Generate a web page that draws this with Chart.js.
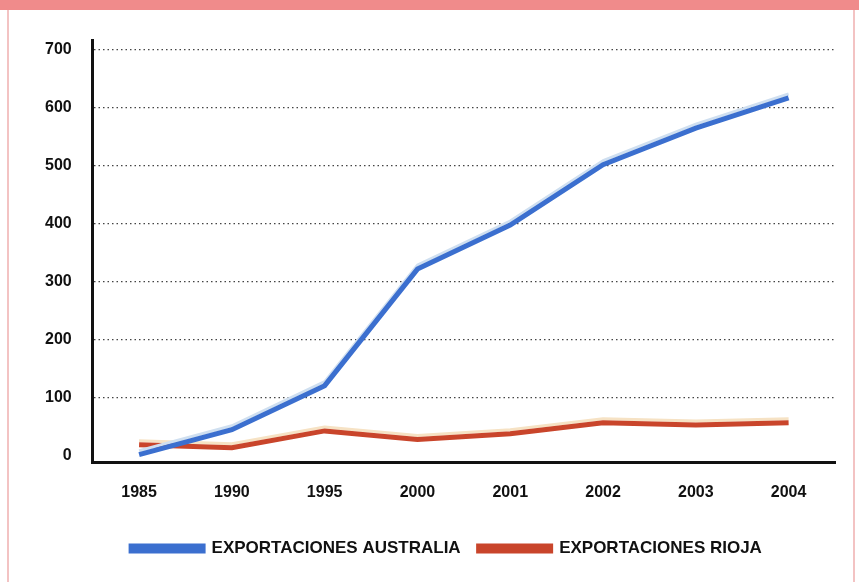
<!DOCTYPE html>
<html>
<head>
<meta charset="utf-8">
<script src="https://cdn.jsdelivr.net/npm/chart.js@4/dist/chart.umd.min.js"></script>
<style>
  html, body { margin: 0; padding: 0; background: #fff; }
  #frame {
    position: relative;
    width: 859px;
    height: 582px;
    overflow: hidden;
    background: #fff;
  }
  #topbar { position: absolute; left: 0; top: 0; width: 859px; height: 10px; background: #f08b8b; }
  #leftline { position: absolute; left: 7px; top: 10px; width: 2px; height: 572px; background: #f3c3c3; }
  #rightline { position: absolute; left: 853px; top: 10px; width: 2px; height: 572px; background: #f3c3c3; }
  #wrap { position: absolute; left: 0; top: 0; width: 859px; height: 582px; }
</style>
</head>
<body>
<div id="frame">
  <div id="topbar"></div>
  <div id="leftline"></div>
  <div id="rightline"></div>
  <div id="wrap"><canvas id="chart"></canvas></div>
</div>
<script>
// Data
const years = ['1985', '1990', '1995', '2000', '2001', '2002', '2003', '2004'];
const australia = [2, 45, 121, 322, 398, 502, 565, 617];
const rioja = [19, 14, 43, 28, 38, 57, 53, 57];
const yTicks = [0, 100, 200, 300, 400, 500, 600, 700];

const FONT = "'Liberation Sans', Arial, sans-serif";

// pale highlight drawn just above each line, like the printed original
const highlightPlugin = {
    id: 'highlight',
    beforeDatasetDraw(chart, args) {
        const ds = chart.data.datasets[args.index];
        if (!ds.highlightColor) return;
        const pts = args.meta.data;
        const ctx = chart.ctx;
        ctx.save();
        ctx.strokeStyle = ds.highlightColor;
        ctx.lineWidth = 3;
        ctx.lineJoin = 'round';
        ctx.beginPath();
        pts.forEach((p, i) => {
            if (i === 0) ctx.moveTo(p.x, p.y - 4);
            else ctx.lineTo(p.x, p.y - 4);
        });
        ctx.stroke();
        ctx.restore();
    }
};

// the legend sits a little right of centre in the original
const legendShift = {
    id: 'legendShift',
    afterLayout(chart) {
        if (!chart.legend) return;
        chart.legend.left += 17;
        chart.legend.right += 17;
    }
};

const ctx = document.getElementById('chart');

new Chart(ctx, {
    type: 'line',
    data: {
        labels: years,
        datasets: [
            {
                label: 'EXPORTACIONES AUSTRALIA',
                data: australia,
                borderColor: '#3b6fcf',
                backgroundColor: '#3b6fcf',
                highlightColor: '#cfdff0',
                borderWidth: 5,
                pointRadius: 0,
                tension: 0,
                fill: false
            },
            {
                label: 'EXPORTACIONES RIOJA',
                data: rioja,
                borderColor: '#c9452b',
                backgroundColor: '#c9452b',
                highlightColor: '#f6e2c4',
                borderWidth: 5,
                pointRadius: 0,
                tension: 0,
                fill: false
            }
        ]
    },
    options: {
        responsive: true,
        maintainAspectRatio: false,
        animation: false,
        layout: {
            padding: { left: 24, right: 24, top: 40, bottom: 15 }
        },
        plugins: {
            legend: {
                position: 'bottom',
                labels: {
                    color: '#111',
                    font: { family: FONT, size: 17, weight: 'bold' },
                    boxWidth: 72,
                    boxHeight: 5,
                    padding: 18
                }
            },
            tooltip: { enabled: false }
        },
        scales: {
            x: {
                offset: true,
                grid: { display: false, drawTicks: false },
                border: { display: true, color: '#111', width: 3 },
                ticks: {
                    color: '#111',
                    padding: 20,
                    font: { family: FONT, size: 16, weight: 'bold' }
                }
            },
            y: {
                min: -12,
                max: 717,
                afterBuildTicks(scale) {
                    scale.ticks = yTicks.map(v => ({ value: v }));
                },
                grid: {
                    color: c => (c.tick && c.tick.value === 0) ? 'rgba(0,0,0,0)' : '#444',
                    lineWidth: 1.3,
                    drawTicks: false
                },
                border: { display: true, color: '#111', width: 3, dash: [1.5, 3] },
                ticks: {
                    color: '#111',
                    padding: 21,
                    font: { family: FONT, size: 16, weight: 'bold' }
                }
            }
        }
    },
    plugins: [highlightPlugin, legendShift]
});
</script>
</body>
</html>
